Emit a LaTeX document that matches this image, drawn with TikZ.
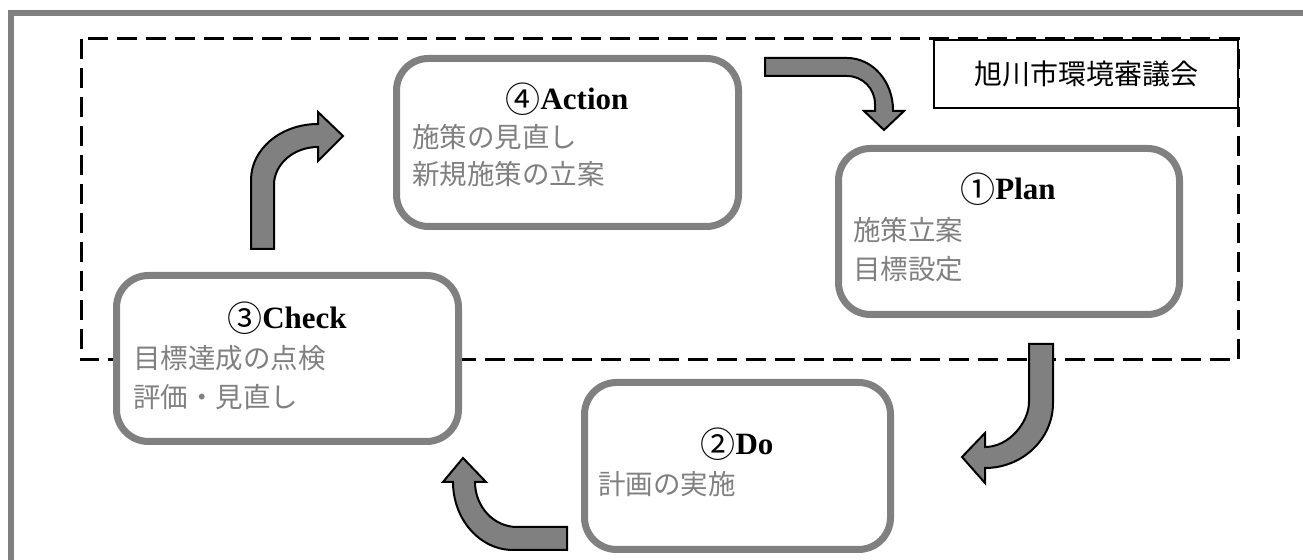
\documentclass[tikz,border=0pt]{standalone}
\usepackage{fontspec}
\setmainfont{Liberation Serif}
\newfontfamily\jpfont{Noto Sans CJK JP}
\definecolor{frameg}{RGB}{128,128,128}
\definecolor{txtg}{RGB}{128,128,128}
\begin{document}
\begin{tikzpicture}[x=0.5pt,y=-0.5pt,
  cyclebox/.style={draw=frameg, line width=3.5pt, rounded corners=16pt, fill=white, inner sep=0pt},
  ttl/.style={font=\fontsize{15.5}{17}\selectfont\bfseries, inner sep=0pt, text height=0.66em, text depth=0pt},
  jtxt/.style={font=\fontsize{13.75}{16}\selectfont\jpfont, text=txtg, inner sep=0pt, anchor=west, text height=0.8em, text depth=0.05em},
  bigarrow/.style={fill=frameg, draw=black, line width=1pt, line join=miter}]
\newcommand{\circd}[1]{\raisebox{-1.6pt}[0pt][0pt]{\jpfont\mdseries\fontsize{17.5}{19}\selectfont #1}}
\useasboundingbox (0,0) rectangle (1303,560);
% outer partial frame
\draw[frameg, line width=3pt] (10.5,560) -- (10.5,13) -- (1303,13);
% dashed council region
\draw[black, line width=1.5pt, dash pattern=on 10pt off 4.5pt] (81,39) rectangle (1238,360);
% council label box
\node[draw=black, line width=0.6pt, fill=white, minimum width=152pt, minimum height=34pt, inner sep=0pt,
      font=\fontsize{14}{16}\selectfont\jpfont] (council) at (1086,74) {旭川市環境審議会};
% cycle boxes
\node[cyclebox, minimum width=171pt, minimum height=84pt] (action) at (567.5,142.5) {};
\node[cyclebox, minimum width=170.5pt, minimum height=83pt] (plan) at (1009,231.5) {};
\node[cyclebox, minimum width=171pt, minimum height=83pt] (check) at (287.5,358.5) {};
\node[cyclebox, minimum width=153pt, minimum height=83.5pt] (do) at (737.5,466) {};
% arrows
% Action -> Plan
\draw[bigarrow] (765,58) -- (847,58) .. controls (872.4,58) and (893,81.3) .. (893,110)
  -- (893,111) -- (904,111) -- (884,130) -- (864,111) -- (875,111) -- (875,104)
  .. controls (875,88.5) and (862.5,76) .. (847,76) -- (765,76) -- cycle;
% Plan -> Do
\draw[bigarrow] (1029,344) -- (1053,344) -- (1053,403) .. controls (1053,439) and (1022.5,468) .. (985,468)
  -- (985,483) -- (962,457) -- (985,433) -- (985,447)
  .. controls (1009.3,447) and (1029,422) .. (1029,402) -- cycle;
% Do -> Check
\draw[bigarrow] (567,527) -- (567,550) -- (513,550) .. controls (480,550) and (453,519.5) .. (453,482)
  -- (443,482) -- (463,458) -- (486,482) -- (475,482)
  .. controls (475,507) and (494,527) .. (517,527) -- cycle;
% Check -> Action
\draw[bigarrow] (251,249) -- (251,180) .. controls (251,149) and (281,124) .. (318,124)
  -- (318,112) -- (343,136) -- (318,161) -- (318,147)
  .. controls (293.7,147) and (274,164) .. (274,185) -- (274,249) -- cycle;
% texts
\node[ttl] (actiont) at (567,103) {\circd{④}Action};
\node[jtxt] (action1) at (412,140) {施策の見直し};
\node[jtxt] (action2) at (412,177) {新規施策の立案};
\node[ttl] (plant) at (1008,193) {\circd{①}Plan};
\node[jtxt] (plan1) at (853,233) {施策立案};
\node[jtxt] (plan2) at (853,272) {目標設定};
\node[ttl] (checkt) at (287,322) {\circd{③}Check};
\node[jtxt] (check1) at (133,361) {目標達成の点検};
\node[jtxt] (check2) at (133,400) {評価・見直し};
\node[ttl] (dot) at (737,448) {\circd{②}Do};
\node[jtxt] (do1) at (598,487) {計画の実施};
\end{tikzpicture}
\end{document}
